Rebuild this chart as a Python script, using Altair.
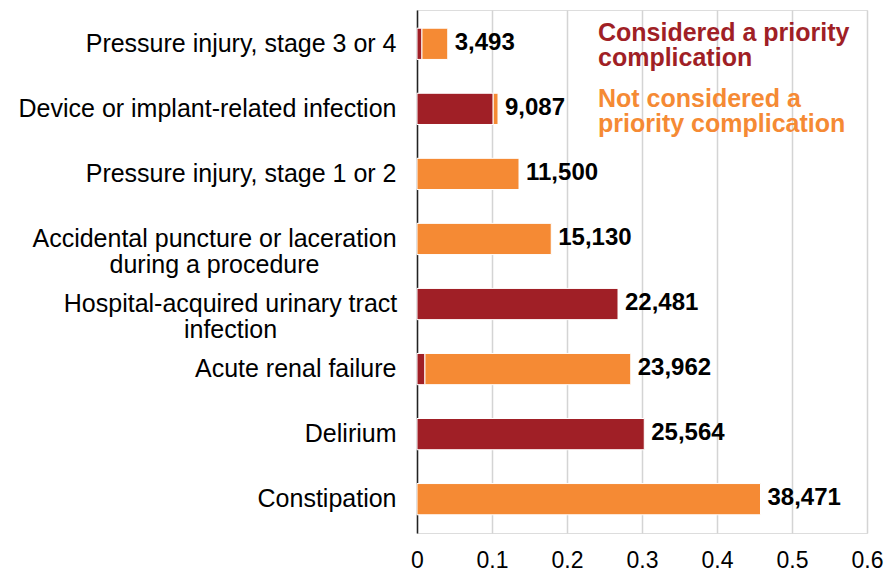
import altair as alt
import pandas as pd

categories = [
    "Pressure injury, stage 3 or 4",
    "Device or implant-related infection",
    "Pressure injury, stage 1 or 2",
    "Accidental puncture or laceration|during a procedure",
    "Hospital-acquired urinary tract|infection",
    "Acute renal failure",
    "Delirium",
    "Constipation",
]
priority = [0.0066, 0.1016, 0.0, 0.0, 0.268, 0.0106, 0.303, 0.0]
not_priority = [0.0344, 0.0064, 0.136, 0.179, 0.0, 0.2744, 0.0, 0.458]
count_labels = ["3,493", "9,087", "11,500", "15,130", "22,481", "23,962", "25,564", "38,471"]

series_names = ["Considered a priority complication", "Not considered a priority complication"]
colors = ["#A01F26", "#F58A34"]

rows = []
for c, p, n in zip(categories, priority, not_priority):
    if p > 0:
        rows.append({"cat": c, "series": series_names[0], "order": 0, "value": p})
    if n > 0:
        rows.append({"cat": c, "series": series_names[1], "order": 1, "value": n})
bars_df = pd.DataFrame(rows)

totals_df = pd.DataFrame({
    "cat": categories,
    "total": [p + n for p, n in zip(priority, not_priority)],
    "label": count_labels,
})

legend_df = pd.DataFrame({
    "text": ["Considered a priority\ncomplication", "Not considered a\npriority complication"],
    "series": series_names,
    "ypos": [31, 97],
})

FONT = "Liberation Sans"

y_enc = alt.Y(
    "cat:N",
    sort=categories,
    scale=alt.Scale(paddingInner=0.52, paddingOuter=0.28),
    axis=alt.Axis(
        title=None,
        labelExpr="split(datum.label, '|')",
        labelFont=FONT,
        labelFontSize=25,
        labelColor="#000000",
        labelLineHeight=26,
        labelAlign={
            "condition": {"test": "indexof(datum.value, '|') >= 0", "value": "center"},
            "value": "right",
        },
        labelPadding={
            "condition": [
                {"test": "indexof(datum.value, 'Accidental') >= 0", "value": 203},
                {"test": "indexof(datum.value, 'Hospital') >= 0", "value": 187},
            ],
            "value": 21,
        },
        ticks=False,
        domain=True,
        domainColor="#222222",
        domainWidth=1.5,
        grid=False,
        labelLimit=500,
    ),
)

x_scale = alt.Scale(domain=[0, 0.6], nice=False)

bars = alt.Chart(bars_df).mark_bar(stroke="white", strokeWidth=1).encode(
    x=alt.X(
        "value:Q",
        stack="zero",
        scale=x_scale,
        axis=alt.Axis(
            title=None,
            values=[0, 0.1, 0.2, 0.3, 0.4, 0.5, 0.6],
            labelExpr="datum.value == 0 ? '0' : format(datum.value, '.1f')",
            labelFont=FONT,
            labelFontSize=23,
            labelColor="#000000",
            labelPadding=16,
            labelFlush=False,
            ticks=False,
            domain=False,
            grid=True,
            gridColor="#D4D4D4",
            gridWidth=1.5,
        ),
    ),
    y=y_enc,
    color=alt.Color(
        "series:N",
        scale=alt.Scale(domain=series_names, range=colors),
        legend=None,
    ),
    order=alt.Order("order:Q"),
)

labels = alt.Chart(totals_df).mark_text(
    align="left", baseline="middle", dx=7, dy=-1,
    font=FONT, fontSize=24, fontWeight="bold", color="#000000",
).encode(
    x=alt.X("total:Q", scale=x_scale),
    y=alt.Y("cat:N", sort=categories),
    text="label:N",
)

legend = alt.Chart(legend_df).mark_text(
    align="left", baseline="alphabetic", lineBreak="\n", lineHeight=25,
    font=FONT, fontSize=25, fontWeight="bold",
).encode(
    x=alt.value(181),
    y=alt.Y("ypos:Q", scale=None),
    text="text:N",
    color=alt.Color("series:N", scale=alt.Scale(domain=series_names, range=colors), legend=None),
)

chart = alt.layer(bars, labels, legend).properties(
    width=450,
    height=523,
    autosize=alt.AutoSizeParams(type="none"),
    padding={"left": 409, "top": 2, "right": 17, "bottom": 40},
).configure_view(stroke=None).configure(background="white")

chart.save("out.html", embed_options={"renderer": "svg", "actions": False})
